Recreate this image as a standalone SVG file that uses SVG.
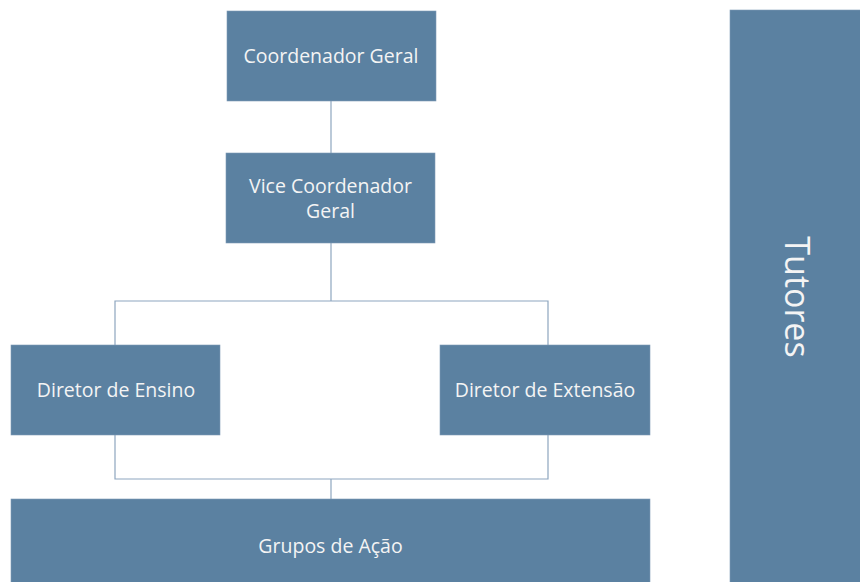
<svg xmlns="http://www.w3.org/2000/svg" width="860" height="582" viewBox="0 0 860 582">
<defs>
<style>
.box{fill:#5b81a1;stroke:#7f9bb6;stroke-width:0.6}
.t{font-family:"Open Sans","Liberation Sans",sans-serif;font-size:19.5px;fill:#f4f4f4;text-anchor:middle}
.big{font-size:34px}
.ln{stroke:#8ea6bf;stroke-width:1.2;fill:none}
</style>
</defs>
<rect width="860" height="582" fill="#ffffff"/>
<g id="connectors">
<line class="ln" x1="331" y1="101" x2="331" y2="153"/>
<line class="ln" x1="331" y1="243" x2="331" y2="301"/>
<polyline class="ln" points="115,345 115,301 548,301 548,345"/>
<polyline class="ln" points="115,435 115,479 548,479 548,435"/>
<line class="ln" x1="331" y1="479" x2="331" y2="499"/>
</g>
<g id="coordenador-geral">
<rect class="box" x="227" y="11" width="209" height="90"/>
<text class="t" x="331" y="63">Coordenador Geral</text>
</g>
<g id="vice-coordenador-geral">
<rect class="box" x="226" y="153" width="209" height="90"/>
<text class="t" x="330.5" y="193">Vice Coordenador</text>
<text class="t" x="330.5" y="218">Geral</text>
</g>
<g id="diretor-ensino">
<rect class="box" x="11" y="345" width="209" height="90"/>
<text class="t" x="116" y="397">Diretor de Ensino</text>
</g>
<g id="diretor-extensao">
<rect class="box" x="440" y="345" width="210" height="90"/>
<text class="t" x="545" y="397">Diretor de Extensão</text>
</g>
<g id="grupos-acao">
<rect class="box" x="11" y="499" width="639" height="90"/>
<text class="t" x="330.5" y="553">Grupos de Ação</text>
</g>
<g id="tutores">
<rect class="box" x="730" y="10" width="140" height="580"/>
<text class="t big" transform="translate(785,297) rotate(90)" x="0" y="0">Tutores</text>
</g>
</svg>
